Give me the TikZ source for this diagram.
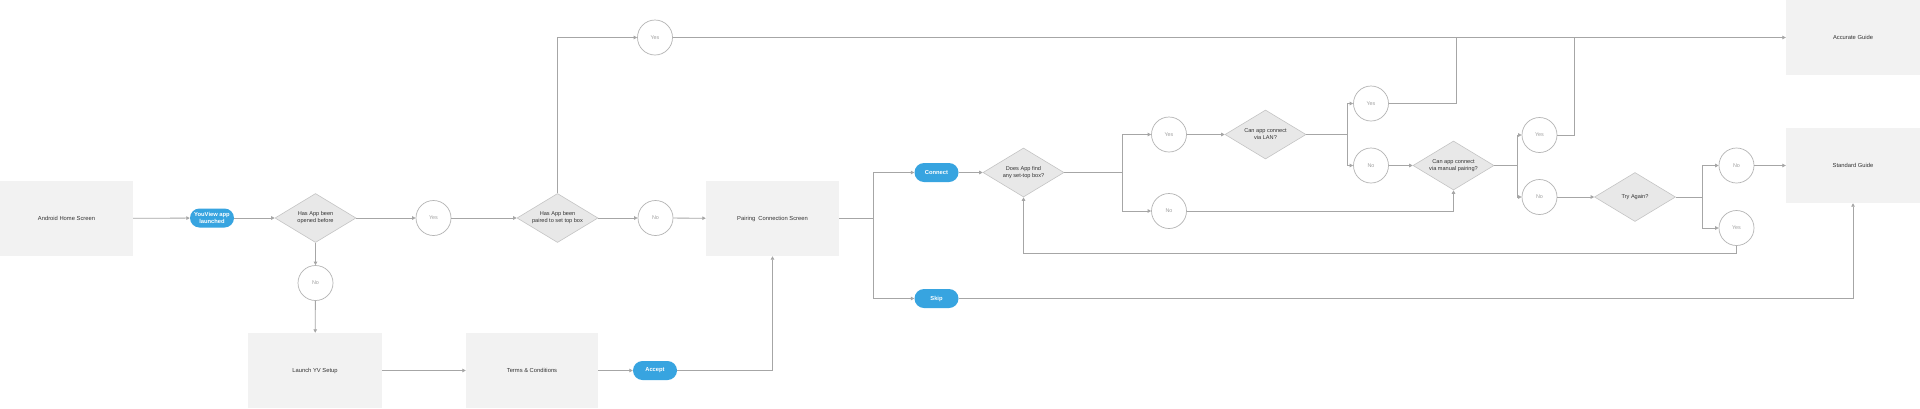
\documentclass[tikz,border=0pt]{standalone}
\usepackage{fontspec}
\setmainfont{Liberation Sans}
\usetikzlibrary{shapes.geometric,arrows.meta}
\definecolor{boxfill}{HTML}{F2F2F2}
\definecolor{diafill}{HTML}{E8E8E8}
\definecolor{diadraw}{HTML}{C4C4C4}
\definecolor{linecol}{HTML}{A6A6A6}
\definecolor{circdraw}{HTML}{B4B4B4}
\definecolor{circtext}{HTML}{A0A0A0}
\definecolor{pillblue}{HTML}{37A4E0}
\definecolor{txt}{HTML}{333333}
\tikzset{
  screen/.style={rectangle, fill=boxfill, draw=none, minimum width=133pt, minimum height=75pt, inner sep=0, text=txt, font=\fontsize{5.8}{7}\selectfont},
  pill/.style={rectangle, rounded corners=9.5pt, fill=pillblue, draw=none, minimum width=44pt, minimum height=19pt, inner sep=0, text=white, font=\fontsize{5.8}{6.2}\selectfont\bfseries, align=center},
  decision/.style={diamond, aspect=1.65, fill=diafill, draw=diadraw, line width=0.6pt, minimum width=81pt, minimum height=49pt, inner sep=0, text=txt, font=\fontsize{5.6}{7}\selectfont, align=center},
  answer/.style={circle, fill=white, draw=circdraw, line width=0.7pt, minimum size=35pt, inner sep=0, text=circtext, font=\fontsize{5.4}{6}\selectfont},
  conn/.style={draw=linecol, line width=0.8pt},
  arr/.style={conn, -{Triangle[length=3.5pt,width=3.5pt]}}
}
\begin{document}
\begin{tikzpicture}[x=1pt,y=-1pt]
\useasboundingbox[fill=white] (0,0) rectangle (1920,408);
% screens
\node[screen] (android) at (66.5,218.5) {Android Home Screen};
\node[screen, minimum width=134pt] (launch) at (315,370.5) {Launch YV Setup};
\node[screen, minimum width=132pt] (terms) at (532,370.5) {Terms \& Conditions};
\node[screen] (pairing) at (772.5,218.5) {Pairing\ \ Connection Screen};
\node[screen, minimum width=134pt] (accurate) at (1853,37.5) {Accurate Guide};
\node[screen, minimum width=134pt] (standard) at (1853,165.5) {Standard Guide};
% pills
\node[pill] (launched) at (212,218) {YouView app\\launched};
\node[pill] (accept) at (655,370.5) {Accept};
\node[pill] (connect) at (936.5,172.5) {Connect};
\node[pill] (skip) at (936.5,298.5) {Skip};
% decisions
\node[decision] (d1) at (315.5,218) {Has App been\\opened before};
\node[decision] (d2) at (557.5,218) {Has App been\\paired to set top box};
\node[decision] (d3) at (1023.5,172.5) {Does App find\\any set-top box?};
\node[decision] (d4) at (1265.5,134.5) {Can app connect\\via LAN?};
\node[decision] (d5) at (1453.5,165.5) {Can app connect\\via manual pairing?};
\node[decision] (d6) at (1635,197) {Try Again?};
% answers
\node[answer] (yes1) at (433.5,218) {Yes};
\node[answer] (no1) at (315.5,283) {No};
\node[answer] (yestop) at (655,37.5) {Yes};
\node[answer] (no2) at (655.5,218) {No};
\node[answer] (yes3) at (1169,134.5) {Yes};
\node[answer] (no3) at (1169,211) {No};
\node[answer] (yesL) at (1371,103.5) {Yes};
\node[answer] (noL) at (1371,165.5) {No};
\node[answer] (yesM) at (1539.5,135) {Yes};
\node[answer] (noM) at (1539.5,197) {No};
\node[answer] (noT) at (1736.5,165.5) {No};
\node[answer] (yesT) at (1736.5,228) {Yes};
% junction points
\coordinate (b1) at (873,218.5);
\coordinate (b2) at (1122,172.5);
\coordinate (b3) at (1347,134.5);
\coordinate (b4) at (1517,165.5);
\coordinate (b5) at (1702,197);
\coordinate (j1) at (1456,37.5);
\coordinate (j2) at (1574,37.5);
\coordinate (loop) at (1736.5,253);
% connectors
\draw[arr] (android) -- (launched);
\draw[arr] (launched) -- (d1);
\draw[arr] (d1) -- (yes1);
\draw[arr] (d1) -- (no1);
\draw[arr] (no1) -- (launch);
\draw[arr] (launch) -- (terms);
\draw[arr] (terms) -- (accept);
\draw[arr] (accept.east) -| (pairing.south);
\draw[arr] (yes1) -- (d2);
\draw[arr] (d2) -- (no2);
\draw[arr] (no2) -- (pairing);
\draw[arr] (d2.north) |- (yestop.west);
\draw[arr] (yestop.east) -- (accurate.west);
\draw[conn] (pairing.east) -- (b1);
\draw[arr] (b1) |- (connect.west);
\draw[arr] (b1) |- (skip.west);
\draw[arr] (connect) -- (d3);
\draw[conn] (d3.east) -- (b2);
\draw[arr] (b2) |- (yes3.west);
\draw[arr] (b2) |- (no3.west);
\draw[arr] (yes3) -- (d4);
\draw[conn] (d4.east) -- (b3);
\draw[arr] (b3) |- (yesL.west);
\draw[arr] (b3) |- (noL.west);
\draw[conn] (yesL.east) -| (j1);
\draw[arr] (noL) -- (d5);
\draw[arr] (no3.east) -| (d5.south);
\draw[conn] (d5.east) -- (b4);
\draw[arr] (b4) |- (yesM.west);
\draw[arr] (b4) |- (noM.west);
\draw[conn] (yesM.east) -| (j2);
\draw[arr] (noM) -- (d6);
\draw[conn] (d6.east) -- (b5);
\draw[arr] (b5) |- (noT.west);
\draw[arr] (b5) |- (yesT.west);
\draw[arr] (noT) -- (standard);
\draw[arr] (yesT.south) -- (loop) -| (d3.south);
\draw[arr] (skip.east) -| (standard.south);
\end{tikzpicture}
\end{document}
